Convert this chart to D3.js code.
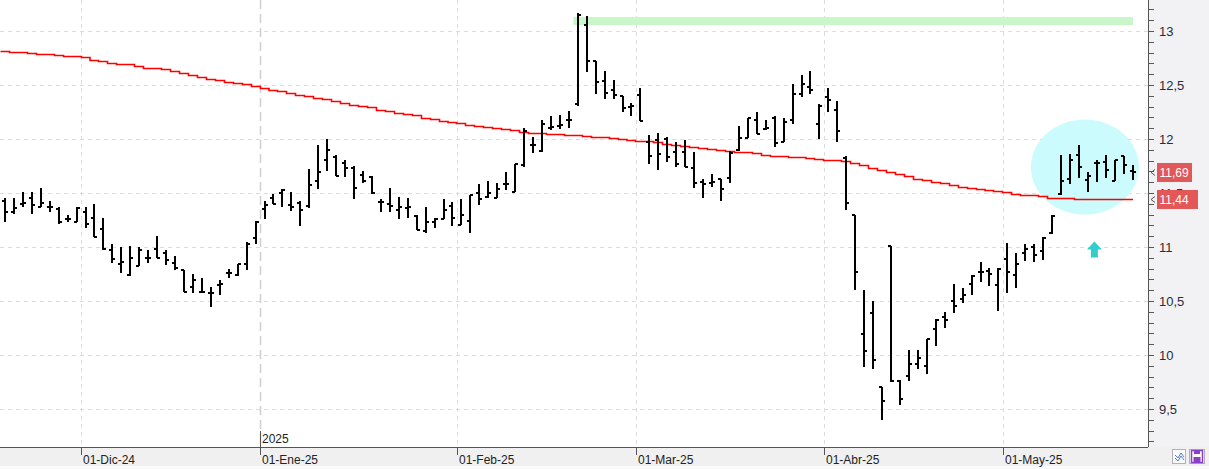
<!DOCTYPE html>
<html>
<head>
<meta charset="utf-8">
<script src="https://cdn.jsdelivr.net/npm/d3@7"></script>
<style>
  body { margin: 0; background: #fff; }
  svg text { font-family: "Liberation Sans", Arial, sans-serif; }
</style>
</head>
<body>
<div id="chart"></div>
<script>
// trading days shown on the chart
var dates = [
  "2024-11-19","2024-11-20","2024-11-21","2024-11-22","2024-11-25","2024-11-26","2024-11-27","2024-11-28","2024-11-29",
  "2024-12-02","2024-12-03","2024-12-04","2024-12-05","2024-12-06","2024-12-09","2024-12-10","2024-12-11","2024-12-12","2024-12-13",
  "2024-12-16","2024-12-17","2024-12-18","2024-12-19","2024-12-20","2024-12-23","2024-12-24","2024-12-27","2024-12-30","2024-12-31",
  "2025-01-02","2025-01-03","2025-01-06","2025-01-07","2025-01-08","2025-01-09","2025-01-10","2025-01-13","2025-01-14","2025-01-15",
  "2025-01-16","2025-01-17","2025-01-20","2025-01-21","2025-01-22","2025-01-23","2025-01-24","2025-01-27","2025-01-28","2025-01-29",
  "2025-01-30","2025-01-31",
  "2025-02-03","2025-02-04","2025-02-05","2025-02-06","2025-02-07","2025-02-10","2025-02-11","2025-02-12","2025-02-13","2025-02-14",
  "2025-02-17","2025-02-18","2025-02-19","2025-02-20","2025-02-21","2025-02-24","2025-02-25","2025-02-26","2025-02-27","2025-02-28",
  "2025-03-03","2025-03-04","2025-03-05","2025-03-06","2025-03-07","2025-03-10","2025-03-11","2025-03-12","2025-03-13","2025-03-14",
  "2025-03-17","2025-03-18","2025-03-19","2025-03-20","2025-03-21","2025-03-24","2025-03-25","2025-03-26","2025-03-27","2025-03-28",
  "2025-03-31",
  "2025-04-01","2025-04-02","2025-04-03","2025-04-04","2025-04-07","2025-04-08","2025-04-09","2025-04-10","2025-04-11","2025-04-14",
  "2025-04-15","2025-04-16","2025-04-17","2025-04-22","2025-04-23","2025-04-24","2025-04-25","2025-04-28","2025-04-29","2025-04-30",
  "2025-05-02","2025-05-05","2025-05-06","2025-05-07","2025-05-08","2025-05-09","2025-05-12","2025-05-13","2025-05-14","2025-05-15",
  "2025-05-16","2025-05-19","2025-05-20","2025-05-21","2025-05-22"
]

var open = [
  11.43,11.32,11.40,11.45,11.37,11.37,11.35,11.26,11.23,
  11.32,11.27,11.17,10.97,10.84,10.74,10.82,10.90,10.98,10.94,10.85,10.79,10.63,10.58,10.57,10.65,10.76,10.74,10.84,11.08,
  11.35,11.45,11.50,11.39,11.41,11.38,11.61,11.81,11.83,11.78,11.73,11.67,11.65,11.42,11.40,11.34,11.36,11.29,11.15,11.23,11.26,11.38,
  11.20,11.24,11.50,11.46,11.45,11.58,11.51,11.76,11.94,11.89,12.10,12.12,12.18,12.32,13.06,12.72,12.54,12.45,12.40,12.30,
  12.41,11.97,11.99,12.00,11.88,11.88,11.73,11.60,11.59,11.63,11.64,11.90,12.01,12.18,12.09,12.19,11.97,12.18,12.42,12.48,12.14,
  12.39,12.27,11.82,11.30,10.19,10.39,9.70,11.01,9.76,9.81,9.92,9.90,10.24,10.35,10.50,10.52,10.66,10.77,10.78,10.65,
  10.89,10.74,10.94,11.00,10.96,11.13,11.49,11.63,11.85,11.62,11.78,11.79,11.61,11.84,11.70
]
var high = [
  11.45,11.45,11.51,11.51,11.55,11.43,11.37,11.30,11.37,
  11.37,11.40,11.27,11.03,11.00,11.01,11.00,10.97,11.10,10.97,10.92,10.79,10.75,10.71,10.63,10.69,10.80,10.84,11.05,11.24,
  11.43,11.49,11.54,11.51,11.43,11.72,11.94,12.00,11.85,11.81,11.75,11.70,11.66,11.44,11.55,11.46,11.45,11.30,11.37,11.27,11.44,11.42,
  11.44,11.48,11.58,11.61,11.59,11.69,11.77,12.10,12.02,12.18,12.21,12.22,12.26,13.17,13.14,12.72,12.63,12.55,12.40,12.33,
  12.47,12.04,12.06,12.02,11.97,11.99,11.88,11.63,11.68,11.63,11.89,12.12,12.19,12.25,12.18,12.21,12.19,12.51,12.59,12.63,12.32,
  12.47,12.35,11.84,11.30,10.60,10.50,9.70,11.01,9.77,10.05,10.05,10.15,10.33,10.40,10.66,10.62,10.74,10.86,10.81,10.81,
  11.04,10.94,11.03,11.03,11.09,11.30,11.85,11.86,11.94,11.69,11.81,11.85,11.81,11.84,11.76
]
var low = [
  11.23,11.31,11.37,11.31,11.37,11.32,11.21,11.23,11.23,
  11.18,11.09,10.97,10.85,10.76,10.73,10.82,10.85,10.90,10.83,10.79,10.58,10.57,10.57,10.44,10.56,10.71,10.73,10.79,11.03,
  11.26,11.40,11.37,11.33,11.19,11.36,11.54,11.70,11.66,11.65,11.44,11.59,11.49,11.32,11.32,11.26,11.27,11.16,11.13,11.18,11.26,11.19,
  11.20,11.13,11.39,11.45,11.45,11.53,11.51,11.74,11.87,11.88,12.08,12.09,12.10,12.31,12.62,12.42,12.37,12.37,12.25,12.21,
  12.17,11.77,11.71,11.79,11.74,11.74,11.55,11.45,11.56,11.43,11.59,11.89,12.01,12.05,12.08,11.93,11.97,12.14,12.39,12.42,12.00,
  12.25,11.97,11.34,10.60,9.89,9.87,9.40,9.75,9.54,9.76,9.87,9.82,10.08,10.25,10.39,10.48,10.56,10.68,10.64,10.41,
  10.57,10.62,10.87,10.86,10.88,11.12,11.48,11.58,11.64,11.51,11.60,11.64,11.61,11.68,11.62
]
var close = [
  11.32,11.36,11.41,11.39,11.41,11.37,11.23,11.26,11.36,
  11.21,11.09,10.98,10.89,10.86,10.90,10.97,10.90,10.90,10.88,10.81,10.58,10.69,10.58,10.57,10.66,10.76,10.84,11.03,11.23,
  11.39,11.40,11.53,11.37,11.34,11.57,11.69,11.90,11.66,11.73,11.55,11.61,11.50,11.42,11.38,11.37,11.37,11.16,11.23,11.26,11.34,11.27,
  11.30,11.48,11.44,11.50,11.54,11.58,11.77,12.07,11.94,12.14,12.11,12.13,12.18,13.15,12.72,12.53,12.43,12.41,12.29,12.31,
  12.17,11.84,11.86,11.83,11.77,11.74,11.59,11.58,11.60,11.54,11.87,12.01,12.19,12.05,12.10,11.96,12.16,12.42,12.51,12.45,12.31,
  12.36,12.07,11.41,10.77,10.04,9.95,9.57,9.76,9.59,9.92,9.97,10.15,10.32,10.32,10.45,10.56,10.73,10.77,10.75,10.80,
  10.77,10.84,10.98,10.93,11.08,11.29,11.61,11.81,11.74,11.66,11.78,11.71,11.81,11.76,11.69
]
// 200-session moving average (red line)
var ma200 = [
  12.815,12.806,12.801,12.796,12.787,12.787,12.778,12.769,12.764,
  12.755,12.736,12.722,12.708,12.699,12.690,12.676,12.662,12.653,12.648,12.630,12.607,12.588,12.574,12.560,12.546,12.532,12.519,12.505,12.491,
  12.472,12.458,12.444,12.426,12.407,12.394,12.380,12.366,12.352,12.333,12.319,12.306,12.292,12.273,12.259,12.245,12.231,12.218,12.199,12.185,12.167,12.153,
  12.148,12.134,12.120,12.111,12.102,12.093,12.079,12.069,12.060,12.051,12.046,12.042,12.037,12.037,12.032,12.023,12.019,12.009,12.000,11.995,
  11.986,11.977,11.968,11.954,11.944,11.935,11.926,11.917,11.907,11.898,11.889,11.884,11.875,11.866,11.852,11.843,11.838,11.833,11.829,11.824,11.819,
  11.810,11.801,11.792,11.778,11.759,11.736,11.713,11.694,11.676,11.653,11.634,11.616,11.602,11.588,11.574,11.560,11.546,11.537,11.528,11.519,
  11.505,11.495,11.486,11.477,11.468,11.458,11.454,11.454,11.449,11.444,11.444,11.444,11.444,11.444,11.444
]

var priceTicks = [9.5, 10, 10.5, 11, 11.5, 12, 12.5, 13]
var monthStarts = ["2024-12-02", "2025-02-03", "2025-03-03", "2025-04-01", "2025-05-02"]
var monthLabels = ["01-Dic-24", "01-Feb-25", "01-Mar-25", "01-Abr-25", "01-May-25"]
var yearStart = "2025-01-02"
var yearLabel = "2025"
var yearMonthLabel = "01-Ene-25"
var resistance = [13.055, 13.13]   // green band
var resistanceFrom = "2025-02-20"
var lastPrice = 11.69
var lastMA = 11.44

// chart dimensions
var width = 1209
var height = 469
var plotRight = 1148
var plotBottom = 447
var step = 8.95

var svg = d3.select('#chart').append('svg')
            .attr('width', width)
            .attr('height', height)

var x = d3.scaleBand()
          .domain(dates)
          .range([0.5, 0.5 + dates.length * step])
          .padding(0)
var y = d3.scaleLinear()
          .domain([9.5, 13])
          .range([409, 31])
var bw = x.bandwidth()
var cx = function (d) { return Math.round(x(d) + bw / 2) }

var comma = d3.formatLocale({decimal: ",", thousands: ".", grouping: [3], currency: ["", "€"]})
var fmtAxis = comma.format("~f")
var fmt2 = comma.format(".2f")

svg.append('defs').append('clipPath').attr('id', 'plotclip')
   .append('rect').attr('x', 0).attr('y', 0).attr('width', plotRight).attr('height', plotBottom)

// backgrounds
svg.append('rect').attr('x', plotRight).attr('y', 0).attr('width', width - plotRight).attr('height', height).attr('fill', '#f2f2f4')
svg.append('rect').attr('x', 0).attr('y', plotBottom).attr('width', width).attr('height', height - plotBottom).attr('fill', '#f0f0f0')
svg.append('rect').attr('x', 0).attr('y', 466).attr('width', width).attr('height', 3).attr('fill', '#fbfbfb')

var plot = svg.append('g').attr('clip-path', 'url(#plotclip)')

// horizontal grid
plot.selectAll('.hgrid').data(priceTicks).enter().append('line')
    .attr('x1', 0).attr('x2', plotRight)
    .attr('y1', function (d) { return Math.round(y(d)) + 0.5 })
    .attr('y2', function (d) { return Math.round(y(d)) + 0.5 })
    .attr('stroke', '#dcdcdc').attr('stroke-dasharray', '4,4')

// vertical month grid
plot.selectAll('.vgrid').data(monthStarts).enter().append('line')
    .attr('x1', function (d) { return Math.round(x(d)) + 0.5 })
    .attr('x2', function (d) { return Math.round(x(d)) + 0.5 })
    .attr('y1', 0).attr('y2', plotBottom)
    .attr('stroke', '#dcdcdc').attr('stroke-dasharray', '4,4')

// year separator
plot.append('line')
    .attr('x1', Math.round(x(yearStart)) + 0.5).attr('x2', Math.round(x(yearStart)) + 0.5)
    .attr('y1', 0).attr('y2', plotBottom)
    .attr('stroke', '#cfcfcf').attr('stroke-width', 1.5).attr('stroke-dasharray', '9,5')

// annotations: green band, cyan ellipse, arrow
plot.append('rect')
    .attr('x', x(resistanceFrom))
    .attr('y', y(resistance[1]))
    .attr('width', cx(dates[dates.length - 1]) - x(resistanceFrom))
    .attr('height', y(resistance[0]) - y(resistance[1]))
    .attr('fill', '#c9f7c9')

var ellX = x(dates[121]) - 3 + bw / 2
plot.append('ellipse')
    .attr('cx', ellX).attr('cy', y(11.74))
    .attr('rx', 54).attr('ry', 47.5)
    .attr('fill', '#cbfbfc')

var arrX = x(dates[122]) + 2
var arrY = y(11.05)
plot.append('path')
    .attr('d', 'M' + (arrX - 7.5) + ',' + (arrY + 8) + 'L' + arrX + ',' + arrY + 'L' + (arrX + 7.5) + ',' + (arrY + 8) +
               'L' + (arrX + 3.5) + ',' + (arrY + 8) + 'L' + (arrX + 3.5) + ',' + (arrY + 16) +
               'L' + (arrX - 3.5) + ',' + (arrY + 16) + 'L' + (arrX - 3.5) + ',' + (arrY + 8) + 'Z')
    .attr('fill', '#33cccc')

// moving average
var maPts = [[x(dates[0]), ma200[0]]].concat(dates.map(function (d, i) { return [cx(d), ma200[i]] }))
var maLine = d3.line()
               .x(function (p) { return p[0] })
               .y(function (p) { return Math.round(y(p[1])) + 0.5 })
               .curve(d3.curveStep)
plot.append('path')
    .attr('d', maLine(maPts))
    .attr('fill', 'none').attr('stroke', '#ff0000').attr('stroke-width', 1.6)

// OHLC bars
var bars = plot.selectAll('.bar').data(dates).enter().append('g')
               .attr('shape-rendering', 'crispEdges')
bars.append('line')
    .attr('x1', function (d) { return cx(d) }).attr('x2', function (d) { return cx(d) })
    .attr('y1', function (d, i) { return y(high[i]) })
    .attr('y2', function (d, i) { return y(low[i]) })
    .attr('stroke', '#000').attr('stroke-width', 2)
bars.append('line')   // open
    .attr('x1', function (d) { return cx(d) - 3 }).attr('x2', function (d) { return cx(d) })
    .attr('y1', function (d, i) { return Math.round(y(open[i])) })
    .attr('y2', function (d, i) { return Math.round(y(open[i])) })
    .attr('stroke', '#000').attr('stroke-width', 2)
bars.append('line')   // close
    .attr('x1', function (d) { return cx(d) }).attr('x2', function (d) { return cx(d) + 3 })
    .attr('y1', function (d, i) { return Math.round(y(close[i])) })
    .attr('y2', function (d, i) { return Math.round(y(close[i])) })
    .attr('stroke', '#000').attr('stroke-width', 2)

// bottom axis
svg.append('line').attr('x1', 0).attr('x2', plotRight).attr('y1', plotBottom + 0.5).attr('y2', plotBottom + 0.5)
   .attr('stroke', '#555')
var allMonths = monthStarts.concat([yearStart])
var allLabels = monthLabels.concat([yearMonthLabel])
svg.selectAll('.mtick').data(allMonths).enter().append('line')
   .attr('x1', function (d) { return Math.round(x(d)) + 0.5 })
   .attr('x2', function (d) { return Math.round(x(d)) + 0.5 })
   .attr('y1', plotBottom).attr('y2', plotBottom + 8)
   .attr('stroke', '#555')
svg.selectAll('.mlabel').data(allMonths).enter().append('text')
   .attr('x', function (d) { return Math.round(x(d)) + 2 })
   .attr('y', 464)
   .attr('font-size', 12).attr('fill', '#222')
   .text(function (d, i) { return allLabels[i] })
svg.append('line')
   .attr('x1', Math.round(x(yearStart)) + 0.5).attr('x2', Math.round(x(yearStart)) + 0.5)
   .attr('y1', 431).attr('y2', plotBottom)
   .attr('stroke', '#555')
svg.append('text')
   .attr('x', Math.round(x(yearStart)) + 2).attr('y', 443)
   .attr('font-size', 12).attr('fill', '#222')
   .text(yearLabel)

// right axis
svg.append('line').attr('x1', plotRight + 0.5).attr('x2', plotRight + 0.5).attr('y1', 0).attr('y2', plotBottom)
   .attr('stroke', '#555')
var minor = d3.range(92, 133).map(function (k) { return k / 10 })
svg.selectAll('.minor').data(minor).enter().append('line')
   .attr('x1', plotRight).attr('x2', plotRight + 6)
   .attr('y1', function (d) { return Math.round(y(d)) + 0.5 })
   .attr('y2', function (d) { return Math.round(y(d)) + 0.5 })
   .attr('stroke', '#555')
svg.selectAll('.plabel').data(priceTicks).enter().append('text')
   .attr('x', 1159)
   .attr('y', function (d) { return y(d) + 4.5 })
   .attr('font-size', 13).attr('fill', '#2a2a3a')
   .text(function (d) { return fmtAxis(d) })

// last value tags (the MA tag sits over the 11,5 label, as in the original)
var tags = [lastPrice, lastMA]
var tagW = [35, 41]
tags.forEach(function (v, i) {
  var ty = y(v)
  svg.append('path')
     .attr('d', 'M1155,' + (ty - 3) + 'L1151,' + ty + 'L1155,' + (ty + 3))
     .attr('fill', 'none').attr('stroke', '#555')
  svg.append('rect')
     .attr('x', 1157).attr('y', ty - 9.5)
     .attr('width', tagW[i]).attr('height', 19)
     .attr('fill', '#e25858')
  svg.append('text')
     .attr('x', 1159.5).attr('y', ty + 4.5)
     .attr('font-size', 12).attr('fill', '#fff')
     .text(fmt2(v))
})

// small toolbar icons bottom right
svg.append('rect').attr('x', 1172.5).attr('y', 449.5).attr('width', 13).attr('height', 14)
   .attr('fill', '#fafafa').attr('stroke', '#b0b0c0')
svg.append('path').attr('d', 'M1175,455 L1178,458 L1181,453 L1184,457 M1175,458 L1178,461 L1181,456 L1184,460')
   .attr('fill', 'none').attr('stroke', '#4a7fd0').attr('stroke-width', 1)
svg.append('rect').attr('x', 1189.5).attr('y', 449.5).attr('width', 15).attr('height', 14)
   .attr('fill', '#fafafa').attr('stroke', '#b0b0c0')
svg.append('rect').attr('x', 1191.5).attr('y', 450.5).attr('width', 11).attr('height', 12)
   .attr('fill', 'none').attr('stroke', '#8a3fc8').attr('stroke-width', 1.5)
svg.append('rect').attr('x', 1194).attr('y', 451).attr('width', 6).attr('height', 3).attr('fill', '#8a3fc8')
svg.append('rect').attr('x', 1193.5).attr('y', 457).attr('width', 7).attr('height', 5).attr('fill', '#8a3fc8')
</script>
</body>
</html>
